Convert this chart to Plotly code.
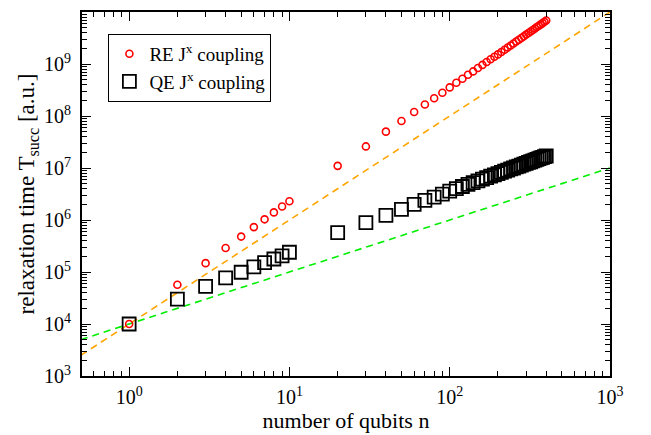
import plotly.graph_objects as go

# ---- data ----
n_vals = [1, 2, 3, 4, 5, 6, 7, 8, 9, 10,
          20, 30, 40, 50, 60, 70, 80, 90, 100,
          110, 120, 130, 140, 150, 160, 170, 180, 190, 200,
          210, 220, 230, 240, 250, 260, 270, 280, 290, 300,
          310, 320, 330, 340, 350, 360, 370, 380, 390, 400]

re_vals = [1.0e4, 5.7e4, 1.48e5, 2.9e5, 4.8e5, 7.3e5, 1.03e6, 1.4e6, 1.82e6, 2.3e6,
           1.1e7, 2.6e7, 5.0e7, 8.0e7, 1.19e8, 1.66e8, 2.2e8, 2.8e8, 3.55e8,
           4.35e8, 5.2e8, 6.2e8, 7.2e8, 8.4e8, 9.6e8, 1.09e9, 1.23e9, 1.38e9, 1.53e9,
           1.7e9, 1.88e9, 2.07e9, 2.27e9, 2.48e9, 2.7e9, 2.93e9, 3.17e9, 3.42e9, 3.68e9,
           3.95e9, 4.23e9, 4.52e9, 4.82e9, 5.13e9, 5.45e9, 5.78e9, 6.12e9, 6.47e9, 6.85e9]

qe_vals = [1.0e4, 3.0e4, 5.3e4, 7.7e4, 9.9e4, 1.26e5, 1.52e5, 1.78e5, 2.04e5, 2.4e5,
           5.7e5, 8.9e5, 1.23e6, 1.6e6, 2.0e6, 2.38e6, 2.76e6, 3.15e6, 3.6e6,
           4.0e6, 4.41e6, 4.83e6, 5.25e6, 5.67e6, 6.09e6, 6.52e6, 6.95e6, 7.38e6, 7.82e6,
           8.26e6, 8.69e6, 9.14e6, 9.59e6, 1.0e7, 1.05e7, 1.09e7, 1.14e7, 1.19e7, 1.23e7,
           1.28e7, 1.32e7, 1.37e7, 1.42e7, 1.46e7, 1.51e7, 1.56e7, 1.6e7, 1.65e7, 1.7e7]

# reference guide lines
guide_n = [0.5, 1000]
orange_vals = [2.5e3, 1.0e10]
green_vals = [5.0e3, 1.0e7]

x_tick_vals = [1, 10, 100, 1000]
x_tick_text = ["10<sup>0</sup>", "10<sup>1</sup>", "10<sup>2</sup>", "10<sup>3</sup>"]
y_tick_vals = [1e3, 1e4, 1e5, 1e6, 1e7, 1e8, 1e9, 1e10]
y_tick_text = ["10<sup>%d</sup>" % k for k in range(3, 11)]

x_minor = [m * 10 ** k for k in range(-1, 3) for m in range(2, 10)]
y_minor = [m * 10 ** k for k in range(3, 10) for m in range(2, 10)]

FONT = "Liberation Serif"

fig = go.Figure()
fig.add_trace(go.Scatter(x=guide_n, y=orange_vals, mode="lines",
                         line=dict(color="#FFA500", width=1.6, dash="7px,5px"),
                         showlegend=False, hoverinfo="skip"))
fig.add_trace(go.Scatter(x=guide_n, y=green_vals, mode="lines",
                         line=dict(color="#00EE00", width=1.6, dash="7px,5px"),
                         showlegend=False, hoverinfo="skip"))
fig.add_trace(go.Scatter(x=n_vals, y=qe_vals, mode="markers",
                         name="QE J<sup>x</sup> coupling",
                         marker=dict(symbol="square-open", size=13, color="black",
                                     line=dict(width=1.8, color="black"))))
fig.add_trace(go.Scatter(x=n_vals, y=re_vals, mode="markers",
                         name="RE J<sup>x</sup> coupling",
                         marker=dict(symbol="circle-open", size=7, color="red",
                                     line=dict(width=1.6, color="red"))))

axis_common = dict(
    type="log", showline=True, linecolor="black", linewidth=2, mirror="ticks",
    ticks="inside", ticklen=9, tickwidth=1.2, tickcolor="black",
    showgrid=False, zeroline=False,
    tickfont=dict(family=FONT, size=20, color="black"),
)

fig.update_xaxes(**axis_common, range=[-0.294, 3.0],
                 tickmode="array", tickvals=x_tick_vals, ticktext=x_tick_text,
                 ticklabelstandoff=2,
                 minor=dict(tickmode="array", tickvals=x_minor, ticks="inside",
                            ticklen=5, tickwidth=1, tickcolor="black", showgrid=False),
                 title=dict(text="number of qubits n", standoff=2,
                            font=dict(family=FONT, size=22, color="black")))
fig.update_yaxes(**axis_common, range=[3, 10],
                 tickmode="array", tickvals=y_tick_vals, ticktext=y_tick_text,
                 ticklabelstandoff=5,
                 minor=dict(tickmode="array", tickvals=y_minor, ticks="inside",
                            ticklen=5, tickwidth=1, tickcolor="black", showgrid=False),
                 title=dict(text="relaxation time T<sub>succ</sub> [a.u.]", standoff=3,
                            font=dict(family=FONT, size=23, color="black")))

fig.update_layout(
    width=651, height=435,
    margin=dict(l=82, r=41, t=10, b=58),
    paper_bgcolor="white", plot_bgcolor="white",
    font=dict(family=FONT, size=19, color="black"),
    legend=dict(x=0.05, y=0.94, xanchor="left", yanchor="top",
                bgcolor="white", bordercolor="black", borderwidth=1,
                traceorder="reversed",
                font=dict(family=FONT, size=19, color="black"),
                itemwidth=30, tracegroupgap=0),
    showlegend=True,
)

fig.write_html("out.html")
